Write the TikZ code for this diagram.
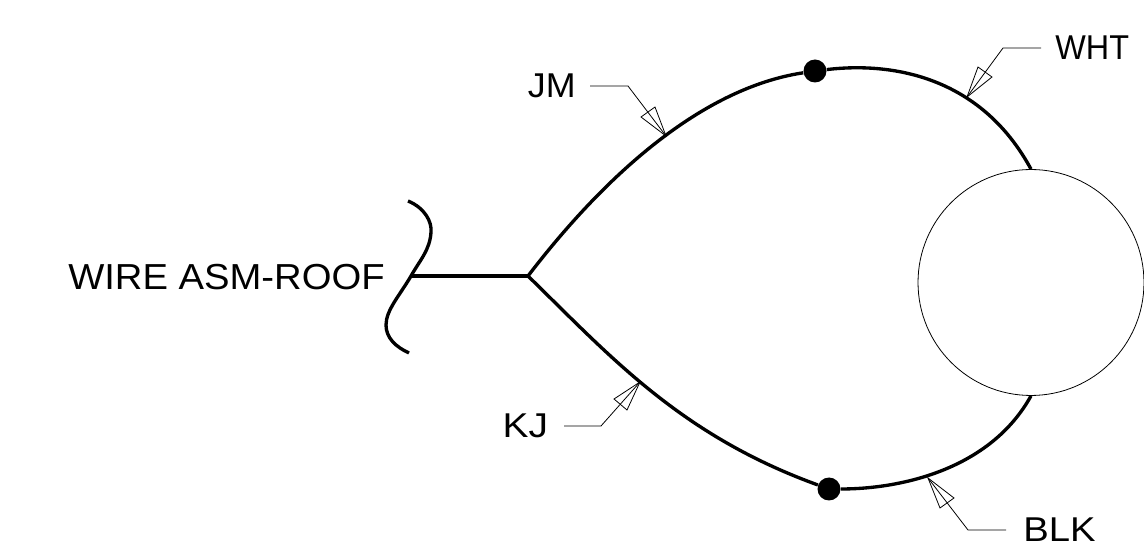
\documentclass[tikz,border=0pt]{standalone}
\usepackage{graphicx}
\usepackage{fontspec}
\setmainfont{Liberation Sans}
\tikzset{
    wire/.style={line width=1.9pt},
    leader/.style={line width=0.45pt},
    splice/.style={circle,fill=black,inner sep=0,minimum size=0.46cm},
    callout/.style={inner xsep=0.28cm,inner ysep=0,font=\fontsize{19.6pt}{24pt}\selectfont}
}
\begin{document}
\begin{tikzpicture}[x=0.02cm,y=-0.02cm]
    \useasboundingbox (0,0) rectangle (1144,550);
    \clip (0,0) rectangle (1144,550);
    % lamp and splices
    \node[circle,draw,line width=0.45pt,inner sep=0,minimum size=4.52cm] (lamp) at (1031,282.5) {};
    \node[splice] (spliceup) at (815,71) {};
    \node[splice] (splicedn) at (829,489) {};
    \coordinate (fork) at (528,276);
    \coordinate (stub) at (411,276);
    % labels
    \node[callout,inner xsep=0,anchor=east] (roof) at (385,277) {\scalebox{1.11}[1.05]{WIRE ASM-ROOF}};
    \node[callout,anchor=east] (jm) at (590,86) {\scalebox{1.04}[1]{JM}};
    \node[callout,inner xsep=0.31cm,anchor=east] (kj) at (564,426) {\scalebox{1.13}[1]{KJ}};
    \node[callout,anchor=west] (wht) at (1041,48) {\scalebox{0.94}[1]{WHT}};
    \node[callout,inner xsep=0.34cm,anchor=west] (blk) at (1006,530) {\scalebox{1.11}[1]{BLK}};
    % harness
    \draw[wire] (stub) -- (fork);
    \draw[wire] (fork) .. controls (590,195) and (690,90) .. (spliceup);
    \draw[wire] (spliceup) .. controls (890,62) and (980,75) .. (lamp.north);
    \draw[wire] (fork) .. controls (610,356) and (680,435) .. (splicedn);
    \draw[wire] (splicedn) .. controls (900,489) and (990,470) .. (lamp.south);
    % break line
    \draw[wire] (408,201) .. controls (425,208) and (432,222) .. (431,232)
        .. controls (430,250) and (420,260) .. (stub)
        .. controls (400,295) and (386,310) .. (386,325)
        .. controls (386,338) and (396,347) .. (409,353);
    % leaders
    \coordinate (jmknee) at (628,86);
    \coordinate (jmtip) at (666,136);
    \coordinate (jma) at (641,117);
    \coordinate (jmb) at (655,107);
    \coordinate (whtknee) at (1003,48);
    \coordinate (whttip) at (967,97);
    \coordinate (whta) at (978,67);
    \coordinate (whtb) at (992,77);
    \coordinate (kjknee) at (601,426);
    \coordinate (kjtip) at (640,382);
    \coordinate (kja) at (614,399);
    \coordinate (kjb) at (627,410);
    \coordinate (blkknee) at (968,530);
    \coordinate (blktip) at (928,478);
    \coordinate (blka) at (940,508);
    \coordinate (blkb) at (954,498);
    \foreach \n/\side in {jm/east,wht/west,kj/east,blk/west}{
        \draw[leader] (\n.\side) -- (\n knee) -- (\n tip);
        \draw[leader] (\n tip) -- (\n a) -- (\n b) -- cycle;
    }
\end{tikzpicture}
\end{document}
